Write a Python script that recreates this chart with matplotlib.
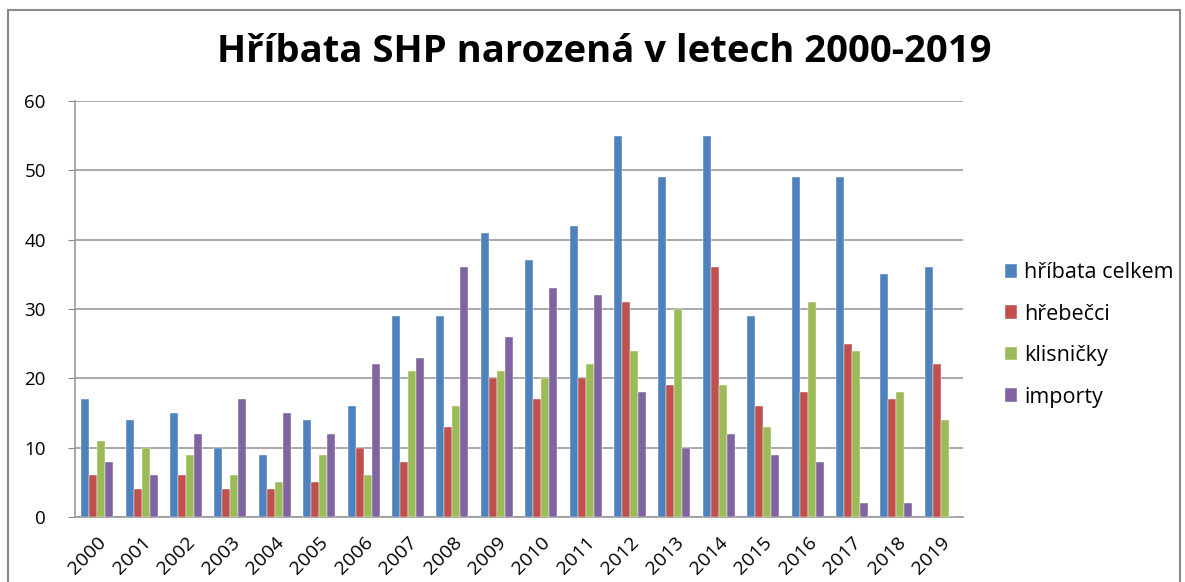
import numpy as np
import matplotlib.pyplot as plt
from matplotlib.patches import Rectangle

years = [str(y) for y in range(2000, 2020)]
hribata_celkem = [17, 14, 15, 10, 9, 14, 16, 29, 29, 41, 37, 42, 55, 49, 55, 29, 49, 49, 35, 36]
hrebecci = [6, 4, 6, 4, 4, 5, 10, 8, 13, 20, 17, 20, 31, 19, 36, 16, 18, 25, 17, 22]
klisnicky = [11, 10, 9, 6, 5, 9, 6, 21, 16, 21, 20, 22, 24, 30, 19, 13, 31, 24, 18, 14]
importy = [8, 6, 12, 17, 15, 12, 22, 23, 36, 26, 33, 32, 18, 10, 12, 9, 8, 2, 2, 0]

series = [
    ("hříbata celkem", hribata_celkem, "#4F81BD"),
    ("hřebečci", hrebecci, "#C0504D"),
    ("klisničky", klisnicky, "#9BBB59"),
    ("importy", importy, "#8064A2"),
]

plt.rcParams['font.family'] = ['Open Sans', 'DejaVu Sans']

fig = plt.figure(figsize=(11.85, 5.82), dpi=100)
fig.patches.append(Rectangle((8 / 1185, -0.1), 1172 / 1185, 1.1 - 10 / 582,
                             transform=fig.transFigure, fill=False,
                             edgecolor='#888888', linewidth=1.5))
ax = fig.add_axes([75 / 1185, 1 - 517 / 582, 888 / 1185, 416 / 582])

x = np.arange(len(years))
w = 0.18
for i, (name, vals, color) in enumerate(series):
    ax.bar(x + (i - 1.5) * w, vals, w, color=color, label=name,
           edgecolor='white', linewidth=0.3, zorder=3)

ax.set_xlim(-0.5, len(years) - 0.5)
ax.set_ylim(0, 60)
ax.set_yticks(range(0, 61, 10))
ax.yaxis.grid(True, color='#999999', linewidth=1.2, zorder=0)
ax.set_xticks(x)
ax.set_xticklabels(years, rotation=45, ha='right', rotation_mode='anchor', fontsize=14)
ax.tick_params(axis='y', labelsize=13.5, length=5, color='#888888', pad=16)
ax.tick_params(axis='x', length=0, pad=12)
for s in ['top', 'right']:
    ax.spines[s].set_visible(False)
for s in ['left', 'bottom']:
    ax.spines[s].set_color('#999999')
    ax.spines[s].set_linewidth(1.2)

fig.text(604 / 1185, 1 - 52 / 582, "Hříbata SHP narozená v letech 2000-2019",
         ha='center', va='center', fontsize=27.5, fontweight='bold')

ax.legend(loc='center left', bbox_to_anchor=(1.025, 0.4375), frameon=False,
          fontsize=15.5, handlelength=0.6, handleheight=0.6, handletextpad=0.3,
          labelspacing=0.95)

fig.savefig("out.png", dpi=100)
